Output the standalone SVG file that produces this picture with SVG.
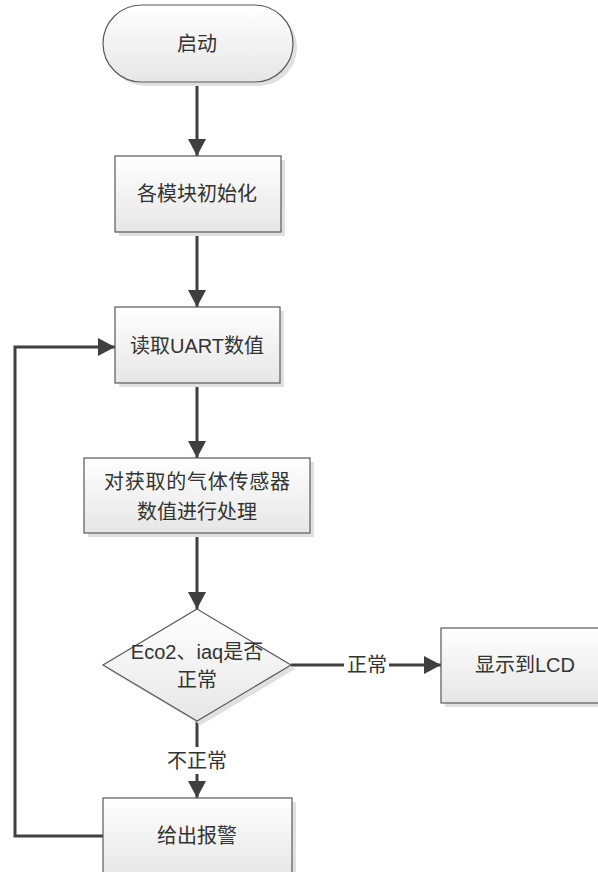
<svg xmlns="http://www.w3.org/2000/svg" width="598" height="872" viewBox="0 0 598 872">
  <defs>
    <linearGradient id="fillGrad" x1="0" y1="0" x2="0" y2="1">
      <stop offset="0" stop-color="#ffffff"/>
      <stop offset="1" stop-color="#e6e6e6"/>
    </linearGradient>
    <marker id="arrow" markerUnits="userSpaceOnUse" markerWidth="18" markerHeight="18" refX="17" refY="9" orient="auto">
      <path d="M0,0 L17,9 L0,18 Z" fill="#3f3f3f"/>
    </marker>
  </defs>
  <style>
    .shape { fill: url(#fillGrad); stroke: #595959; stroke-width: 1.2; }
    .shadow { fill: #e0e0e0; }
    .lbl { font-family: "Liberation Sans", "Noto Sans CJK SC", sans-serif; font-size: 20px; fill: #333333; text-anchor: middle; }
    .conn { fill: none; stroke: #3f3f3f; stroke-width: 3; }
  </style>
  <rect width="598" height="872" fill="#ffffff"/>

  <!-- connectors -->
  <g id="connectors">
    <path class="conn" d="M197,82 V156" marker-end="url(#arrow)"/>
    <path class="conn" d="M197,232 V307" marker-end="url(#arrow)"/>
    <path class="conn" d="M197,383 V458" marker-end="url(#arrow)"/>
    <path class="conn" d="M197,533 V609" marker-end="url(#arrow)"/>
    <path class="conn" d="M291,665 H344"/>
    <path class="conn" d="M389,665 H441" marker-end="url(#arrow)"/>
    <text class="lbl" x="367" y="672">正常</text>
    <path class="conn" d="M197,721 V747"/>
    <path class="conn" d="M197,774 V798" marker-end="url(#arrow)"/>
    <text class="lbl" x="197" y="768">不正常</text>
    <path class="conn" d="M103,836 H15 V347 H115" marker-end="url(#arrow)"/>
  </g>

  <g id="start">
    <rect class="shadow" x="107" y="9" width="190" height="77" rx="38.5"/>
    <rect class="shape" x="103" y="5" width="190" height="77" rx="38.5"/>
    <text class="lbl" x="197" y="51">启动</text>
  </g>

  <g id="init">
    <rect class="shadow" x="119" y="160" width="166" height="76"/>
    <rect class="shape" x="115" y="156" width="166" height="76"/>
    <text class="lbl" x="197" y="201">各模块初始化</text>
  </g>

  <g id="read-uart">
    <rect class="shadow" x="119" y="311" width="165" height="76"/>
    <rect class="shape" x="115" y="307" width="165" height="76"/>
    <text class="lbl" x="197" y="353">读取UART数值</text>
  </g>

  <g id="process">
    <rect class="shadow" x="88" y="462" width="226" height="75"/>
    <rect class="shape" x="84" y="458" width="226" height="75"/>
    <text class="lbl" x="197" y="489" textLength="186">对获取的气体传感器</text>
    <text class="lbl" x="197" y="519">数值进行处理</text>
  </g>

  <g id="check">
    <polygon class="shadow" points="201,613 295,669 201,725 107,669"/>
    <polygon class="shape" points="197,609 291,665 197,721 103,665"/>
    <text class="lbl" x="197" y="659">Eco2、iaq是否</text>
    <text class="lbl" x="197" y="687">正常</text>
  </g>

  <g id="show-lcd">
    <rect class="shadow" x="445" y="632" width="170" height="75"/>
    <rect class="shape" x="441" y="628" width="170" height="75"/>
    <text class="lbl" x="525" y="672">显示到LCD</text>
  </g>

  <g id="alarm">
    <rect class="shadow" x="107" y="802" width="189" height="80"/>
    <rect class="shape" x="103" y="798" width="189" height="80"/>
    <text class="lbl" x="197" y="843">给出报警</text>
  </g>
</svg>
